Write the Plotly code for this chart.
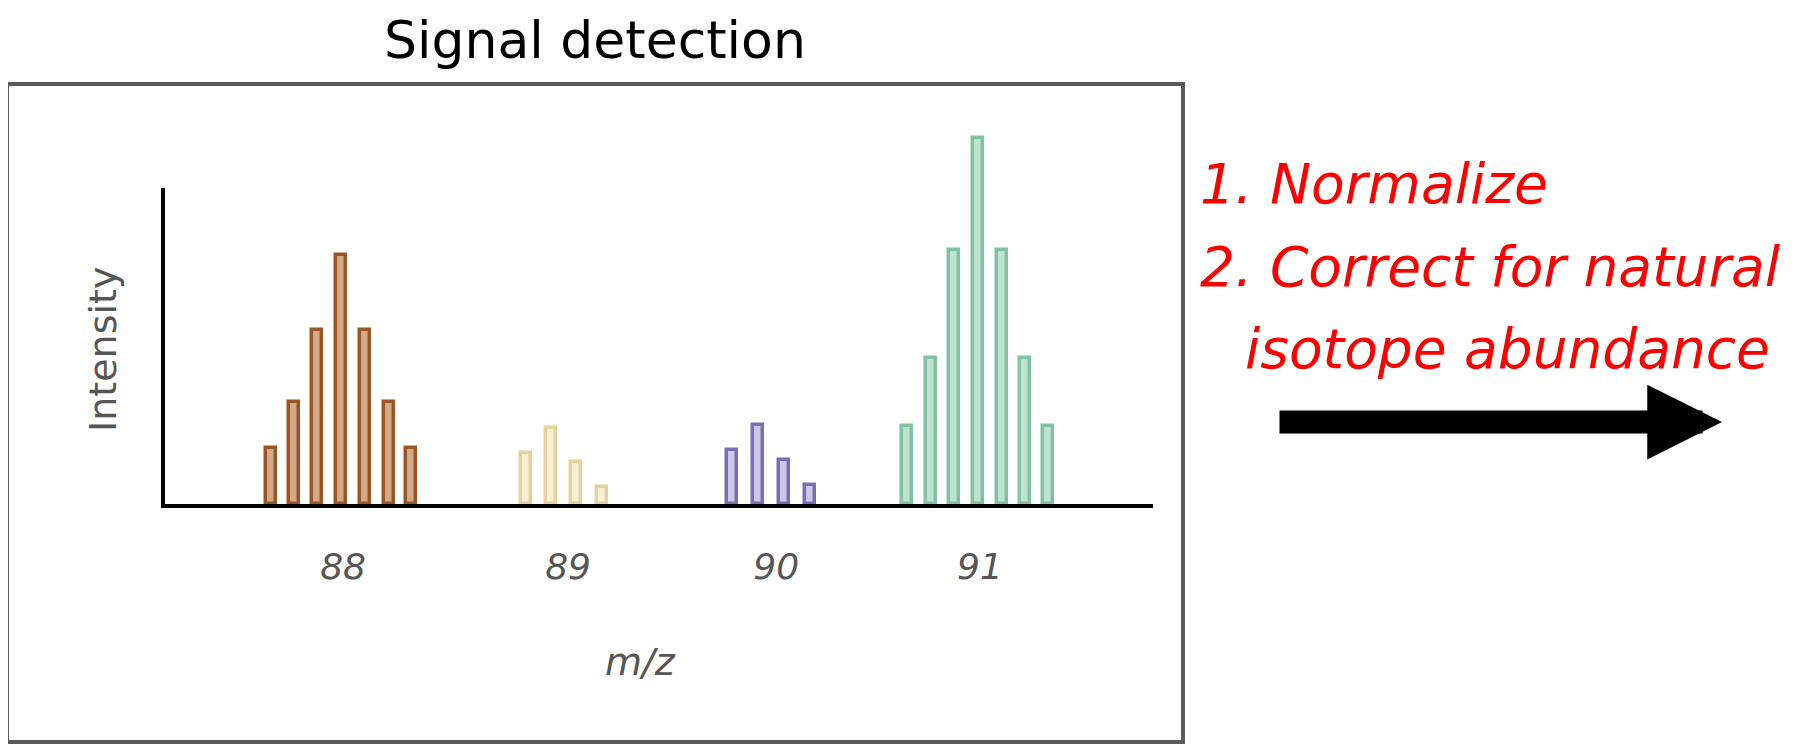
import plotly.graph_objects as go

# peak positions (m/z) and heights, green apex = 100
BROWN_MZ = [87.661, 87.769, 87.878, 87.991, 88.104, 88.217, 88.320]
BROWN_H = [15.3, 27.9, 47.5, 68.0, 47.5, 27.9, 15.3]
YELLOW_MZ = [88.862, 88.980, 89.097, 89.220]
YELLOW_H = [13.9, 20.8, 11.5, 4.6]
PURPLE_MZ = [89.832, 89.955, 90.077, 90.200]
PURPLE_H = [14.8, 21.6, 12.0, 5.2]
GREEN_MZ = [90.657, 90.770, 90.878, 90.991, 91.104, 91.212, 91.320]
GREEN_H = [21.3, 40.0, 69.5, 100.0, 69.5, 40.0, 21.3]

TICK_POS = [88.0, 89.06, 90.04, 91.0]
TICK_TEXT = ["88", "89", "90", "91"]

# the page body has an 8px margin, so the figure is shifted by that much
OFF = 8
W, H = 1792, 741
L, T = 155, 122
PW, PH = 990, 374
R, B = W - L - PW, H - T - PH


def px_x(p):
    return (p - OFF - L) / PW


def px_y(p):
    return (H - B - (p - OFF)) / PH


clusters = [
    (BROWN_MZ, BROWN_H, "#9a5526", "rgba(180,112,62,0.6)"),
    (YELLOW_MZ, YELLOW_H, "#e6d29c", "rgba(242,228,188,0.6)"),
    (PURPLE_MZ, PURPLE_H, "#7b6db5", "rgba(165,155,212,0.55)"),
    (GREEN_MZ, GREEN_H, "#80c3a2", "rgba(155,210,182,0.65)"),
]

fig = go.Figure()
for mz, h, line_col, fill_col in clusters:
    fig.add_trace(go.Bar(
        x=mz, y=h, width=0.045,
        marker=dict(color=fill_col, line=dict(color=line_col, width=3.5)),
        hoverinfo="skip",
    ))

font = "DejaVu Sans"
grey = "#555555"

fig.update_layout(
    width=W, height=H,
    template="none",
    showlegend=False,
    paper_bgcolor="white", plot_bgcolor="white",
    margin=dict(l=L, r=R, t=T, b=B, autoexpand=False),
    bargap=0,
    xaxis=dict(
        range=[87.152, 91.815], showgrid=False, zeroline=False,
        showline=True, linecolor="black", linewidth=4,
        tickvals=TICK_POS, ticktext=TICK_TEXT,
        ticks="outside", ticklen=28, tickcolor="rgba(0,0,0,0)",
        tickfont=dict(family=font, size=36, color=grey, style="italic"),
        automargin=False,
    ),
    yaxis=dict(
        range=[0, 102.2], showgrid=False, zeroline=False,
        showline=False, showticklabels=False, ticks="",
        automargin=False,
    ),
    shapes=[
        # outer frame
        dict(type="rect", xref="paper", yref="paper",
             x0=px_x(7), x1=px_x(1183), y0=px_y(742), y1=px_y(84),
             line=dict(color="#5a5a5a", width=4), layer="below"),
        # y axis line
        dict(type="line", xref="paper", yref="paper",
             x0=0, x1=0, y0=px_y(508), y1=px_y(188),
             line=dict(color="black", width=4)),
    ],
)

# title sits flush with the top of the figure
fig.add_annotation(
    text="Signal detection", xref="paper", yref="paper",
    x=px_x(595), y=px_y(OFF), xanchor="center", yanchor="top",
    showarrow=False, font=dict(family=font, size=52, color="black"),
)

texts = [
    ("Intensity", 103, 350, "center", -90, dict(size=38, color=grey)),
    ("<i>m/z</i>", 640, 662, "center", 0, dict(size=38, color=grey)),
    ("<i>1. Normalize</i>", 1198, 184, "left", 0, dict(size=55, color="#ff0000")),
    ("<i>2. Correct for natural</i>", 1198, 267, "left", 0, dict(size=55, color="#ff0000")),
    ("<i>isotope abundance</i>", 1243, 349, "left", 0, dict(size=55, color="#ff0000")),
]
for txt, x, y, anchor, ang, f in texts:
    fig.add_annotation(
        text=txt, xref="paper", yref="paper", x=px_x(x), y=px_y(y),
        xanchor=anchor, yanchor="middle", textangle=ang, showarrow=False,
        font=dict(family=font, **f),
    )

# arrow to the next step
fig.add_annotation(
    text="", xref="paper", yref="paper", x=px_x(1722), y=px_y(422),
    ax=-444, ay=0, showarrow=True, arrowhead=2, arrowwidth=23,
    arrowsize=0.65, arrowcolor="black", standoff=0,
)

fig.write_html("out.html")
